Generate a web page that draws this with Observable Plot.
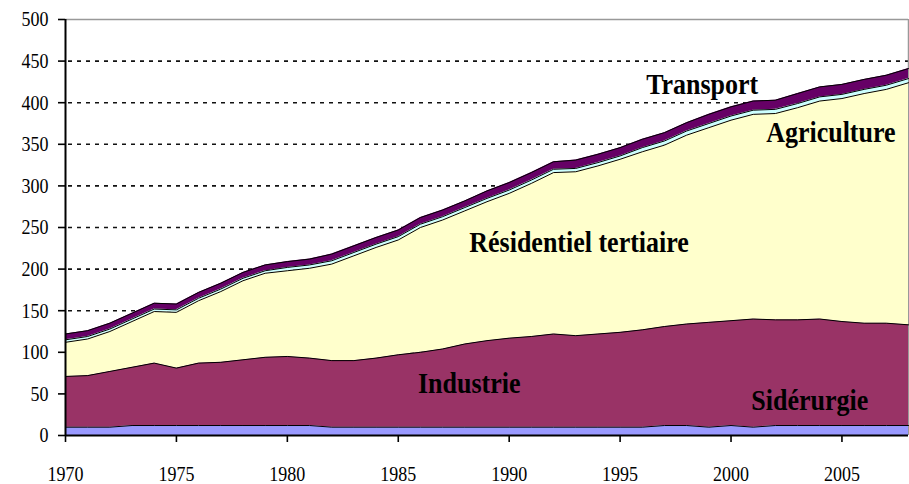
<!DOCTYPE html>
<html><head><meta charset="utf-8">
<script src="https://cdn.jsdelivr.net/npm/d3@7"></script>
<script src="https://cdn.jsdelivr.net/npm/@observablehq/plot@0.6"></script>
<style>body{margin:0;background:#fff}</style>
</head><body><div id="chart"></div>
<script>
const years = [1970,1971,1972,1973,1974,1975,1976,1977,1978,1979,1980,1981,1982,1983,1984,1985,1986,1987,1988,1989,1990,1991,1992,1993,1994,1995,1996,1997,1998,1999,2000,2001,2002,2003,2004,2005,2006,2007,2008];
const seriesNames = ["Sidérurgie","Industrie","Résidentiel tertiaire","Agriculture","Transport"];
const siderurgie  = [10,10,10,12,12,12,12,12,12,12,12,12,10,10,10,10,10,10,10,10,10,10,10,10,10,10,10,12,12,10,12,10,12,12,12,12,12,12,12];
const industrie   = [61,62,67,70,75,69,75,76,79,82,83,81,80,80,83,87,90,94,100,104,107,109,112,110,112,114,117,119,122,126,126,130,127,127,128,125,123,123,121];
const residentiel = [41,44,48,55,62,67,75,85,95,101,103,108,116,126,133,138,150,155,160,167,174,184,194,197,202,208,214,218,227,234,241,246,248,255,262,268,276,281,291];
const agriculture = [3,3,3,3,3,3,3,3,3,3,4,4,4,4,4,4,4,4,4,4,4,4,4,4,4,4,5,5,5,5,5,5,5,5,5,5,5,5,5];
const transport   = [7,7,7,7,7,7,7,7,7,7,7,7,8,8,8,8,8,8,8,9,9,9,9,10,10,10,10,10,10,11,11,11,11,12,12,12,12,12,12];
const yTicks = [0,50,100,150,200,250,300,350,400,450,500];
const xTicks = [1970,1975,1980,1985,1990,1995,2000,2005];
const colors = ["#9999ff","#993366","#ffffcc","#ccffff","#660066"];

const seriesValues = [siderurgie, industrie, residentiel, agriculture, transport];
const data = seriesNames.flatMap((s, k) => years.map((yr, i) => ({year: yr, series: s, value: seriesValues[k][i]})));

// label anchors (data coordinates)
const labels = [
  {name: "Transport", x: 1998.7, y: 411},
  {name: "Agriculture", x: 2004.5, y: 353},
  {name: "Résidentiel tertiaire", x: 1993.15, y: 220},
  {name: "Industrie", x: 1988.2, y: 50.5},
  {name: "Sidérurgie", x: 2003.55, y: 31}
];

const chart = Plot.plot({
  width: 909, height: 484,
  marginLeft: 65, marginRight: 1, marginTop: 19, marginBottom: 49,
  x: {domain: [1970, 2008]},
  y: {domain: [0, 500]},
  color: {domain: seriesNames, range: colors},
  style: {fontFamily: "'Liberation Serif', 'Times New Roman', serif", background: "#fff", color: "#000"},
  marks: [
    Plot.ruleY(yTicks.filter(d => d > 0 && d < 500), {stroke: "#111", strokeDasharray: "4,5", strokeDashoffset: -3, strokeWidth: 1.6}),
    Plot.ruleY([500], {stroke: "#999", strokeWidth: 1.5}),
    Plot.ruleX([2008], {stroke: "#999", strokeWidth: 1.5}),
    Plot.areaY(data, Plot.stackY({x: "year", y: "value", z: "series", fill: "series"})),
    Plot.lineY(data, Plot.stackY2({x: "year", y: "value", z: "series", stroke: "#000", strokeWidth: 1})),
    Plot.ruleX([1970], {stroke: "#000", strokeWidth: 2}),
    Plot.ruleY([0], {stroke: "#000", strokeWidth: 2}),
    Plot.axisY({ticks: yTicks, tickSize: 7, tickPadding: 10, fontSize: 18, label: null, tickFormat: d => String(d), strokeWidth: 1.6}),
    Plot.axisX({ticks: xTicks, tickSize: 7, tickPadding: 23, fontSize: 18, label: null, tickFormat: d => String(d), strokeWidth: 1.6}),
    Plot.text(labels, {x: "x", y: "y", text: "name", fontSize: 26, fontWeight: "bold", lineAnchor: "bottom", textAnchor: "middle", fill: "#000"})
  ]
});
document.getElementById("chart").appendChild(chart);

function stretch(sel, k) {
  d3.select(chart).selectAll(sel).each(function() {
    const t = this.getAttribute("transform");
    if (t) this.setAttribute("transform", t + ` scale(1,${k})`);
  });
}
stretch('g[aria-label="x-axis tick label"] text', 1.2);
stretch('g[aria-label="y-axis tick label"] text', 1.2);
stretch('g[aria-label="text"] text', 1.15);
</script>
</body></html>
